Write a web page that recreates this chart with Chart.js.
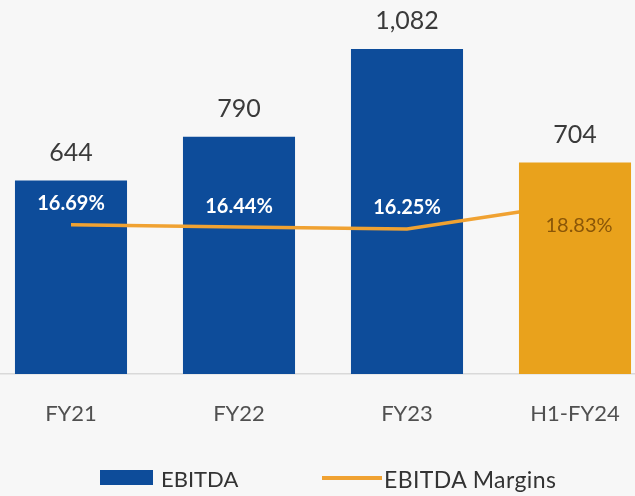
<!DOCTYPE html>
<html>
<head>
<meta charset="utf-8">
<script src="https://cdn.jsdelivr.net/npm/chart.js@4.4.1/dist/chart.umd.min.js"></script>
<style>
  html, body { margin: 0; padding: 0; width: 635px; height: 496px; overflow: hidden; background: #f7f7f7; font-family: Lato, "Open Sans", sans-serif; }
  #wrap { position: absolute; left: -13px; top: 0; width: 672px; height: 496px; }
  .lg { position: absolute; color: #333; font-size: 22px; line-height: 22px; }
  .sw { position: absolute; }
</style>
</head>
<body>
<div id="wrap"><canvas id="c" width="672" height="496"></canvas></div>
<div class="sw" style="left:100px;top:470px;width:53px;height:15px;background:#0d4c9a;"></div>
<div class="lg" style="left:161px;top:468px;">EBITDA</div>
<div class="sw" style="left:322px;top:476px;width:60px;height:4px;background:#f0a232;"></div>
<div class="lg" style="left:384px;top:468px;font-size:23px;letter-spacing:0.4px;">EBITDA Margins</div>
<script>
const categories = ["FY21", "FY22", "FY23", "H1-FY24"];
const ebitda = [644, 790, 1082, 704];
const margins = [16.69, 16.44, 16.25, 18.83];
const highlightIndex = 3;

const blueBars = ebitda.map((v, i) => i === highlightIndex ? null : v);
const orangeBars = ebitda.map((v, i) => i === highlightIndex ? v : null);

const labelPlugin = {
  id: 'labels',
  afterDatasetsDraw(chart) {
    const ctx = chart.ctx;
    ctx.save();
    ctx.textAlign = 'center';
    ctx.textBaseline = 'middle';
    ctx.font = '400 25px Lato, "Open Sans", sans-serif';
    ctx.fillStyle = '#3a3a3a';
    [0, 2].forEach(di => {
      const meta = chart.getDatasetMeta(di);
      meta.data.forEach((el, i) => {
        const v = chart.data.datasets[di].data[i];
        if (v == null) return;
        ctx.fillText(v.toLocaleString('en-US'), el.x, el.y - 28);
      });
    });
    const lm = chart.getDatasetMeta(1);
    lm.data.forEach((el, i) => {
      const txt = margins[i].toFixed(2) + '%';
      if (i === highlightIndex) {
        ctx.fillStyle = '#8a5608';
        ctx.font = '400 20px Lato, "Open Sans", sans-serif';
        ctx.fillText(txt, el.x + 4, el.y + 22);
      } else {
        ctx.fillStyle = '#ffffff';
        ctx.font = '700 20px Lato, "Open Sans", sans-serif';
        ctx.fillText(txt, el.x, el.y - 21);
      }
    });
    ctx.restore();
  }
};

new Chart(document.getElementById('c'), {
  data: {
    labels: categories,
    datasets: [
      { type: 'bar', label: 'EBITDA', data: blueBars, backgroundColor: '#0d4c9a', yAxisID: 'y', order: 3, grouped: false, categoryPercentage: 1, barPercentage: 0.667 },
      { type: 'line', label: 'EBITDA Margins', data: margins, borderColor: '#f0a232', borderWidth: 3.5, pointRadius: 0, tension: 0, yAxisID: 'y2', order: 2 },
      { type: 'bar', label: 'EBITDA H1', data: orangeBars, backgroundColor: '#e9a21c', yAxisID: 'y', order: 1, grouped: false, categoryPercentage: 1, barPercentage: 0.667 }
    ]
  },
  options: {
    responsive: false,
    animation: false,
    layout: { padding: 0 },
    plugins: { legend: { display: false }, tooltip: { enabled: false } },
    scales: {
      x: {
        grid: { display: false, drawTicks: false },
        border: { display: true, color: '#d9d9d9', width: 1.5 },
        ticks: { color: '#505050', font: { family: 'Lato, "Open Sans", sans-serif', size: 22 }, padding: 27 },
        afterFit: (s) => { s.height = 122; }
      },
      y: { display: false, min: 0, max: 1245 },
      y2: { display: false, min: 1.57, max: 39.43 }
    }
  },
  plugins: [labelPlugin]
});
</script>
</body>
</html>
